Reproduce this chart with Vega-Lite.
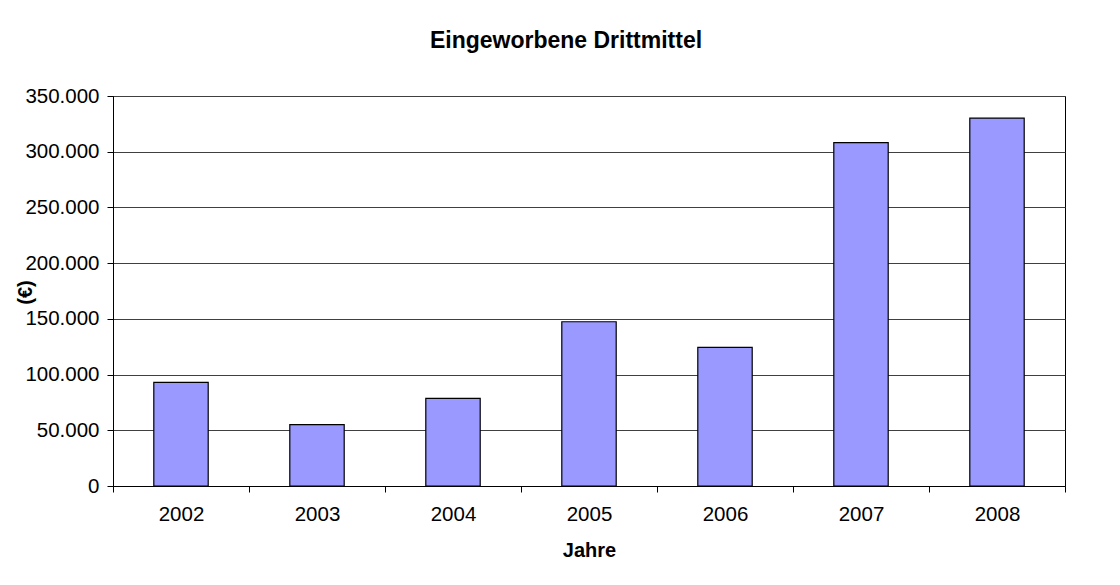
{
  "$schema": "https://vega.github.io/schema/vega-lite/v6.json",
  "width": 952,
  "height": 390,
  "autosize": "none",
  "padding": {"left": 113, "top": 96, "right": 55, "bottom": 99},
  "background": "white",
  "config": {
    "font": "Liberation Sans",
    "locale": {"number": {"decimal": ",", "thousands": ".", "grouping": [3], "currency": ["", " €"]}},
    "view": {"stroke": "#000000", "strokeWidth": 1},
    "axis": {
      "domainColor": "#000000",
      "tickColor": "#000000",
      "labelColor": "#000000",
      "titleColor": "#000000",
      "labelFont": "Liberation Sans",
      "titleFont": "Liberation Sans",
      "labelFontSize": 20.5,
      "titleFontSize": 20,
      "titleFontWeight": "bold",
      "tickSize": 6
    }
  },
  "title": {
    "text": "Eingeworbene Drittmittel",
    "font": "Liberation Sans",
    "fontSize": 23,
    "fontWeight": "bold",
    "color": "#000000",
    "anchor": "middle",
    "offset": 33,
    "dx": -23
  },
  "data": {
    "values": [
      {"Jahr": "2002", "Betrag": 93000},
      {"Jahr": "2003", "Betrag": 55000},
      {"Jahr": "2004", "Betrag": 78600},
      {"Jahr": "2005", "Betrag": 147400},
      {"Jahr": "2006", "Betrag": 124400},
      {"Jahr": "2007", "Betrag": 308100},
      {"Jahr": "2008", "Betrag": 330200}
    ]
  },
  "mark": {"type": "bar", "fill": "#9999FF", "stroke": "#000000", "strokeWidth": 1.2, "width": {"band": 0.4}},
  "encoding": {
    "x": {
      "field": "Jahr",
      "type": "ordinal",
      "scale": {"paddingInner": 0, "paddingOuter": 0},
      "axis": {
        "title": "Jahre",
        "labelAngle": 0,
        "tickBand": "extent",
        "labelPadding": 12,
        "titleY": 54,
        "titleBaseline": "top"
      }
    },
    "y": {
      "field": "Betrag",
      "type": "quantitative",
      "scale": {"domain": [0, 350000], "nice": false},
      "axis": {
        "title": "(€)",
        "values": [0, 50000, 100000, 150000, 200000, 250000, 300000, 350000],
        "format": ",.0f",
        "labelPadding": 8,
        "grid": true,
        "gridColor": "#404040",
        "gridWidth": 1,
        "gridOpacity": 1,
        "titleX": -78,
        "titleY": 196,
        "titleAngle": -90,
        "titleBaseline": "bottom",
        "titleAlign": "center"
      }
    }
  }
}
